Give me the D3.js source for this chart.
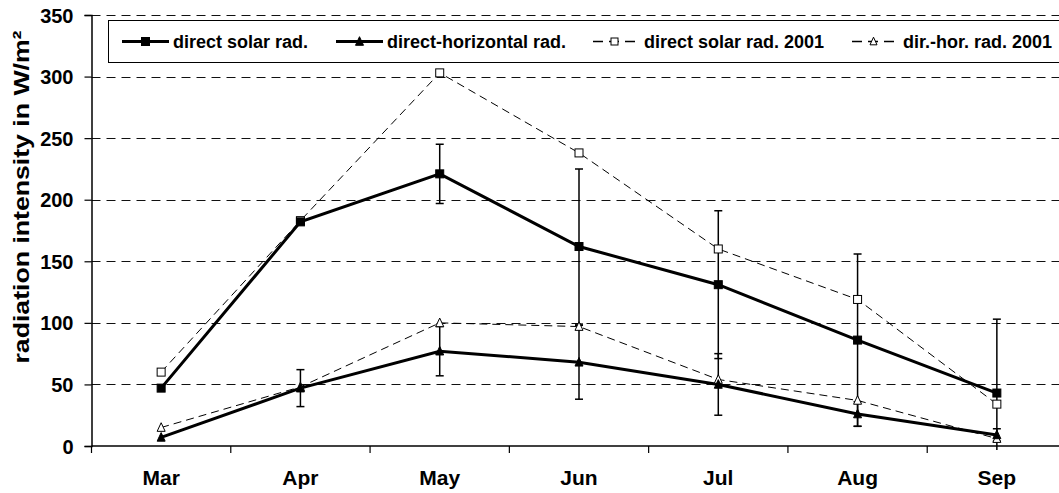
<!DOCTYPE html>
<html lang="en">
<head>
<meta charset="UTF-8">
<title>Radiation intensity</title>
<script src="https://d3js.org/d3.v7.min.js"></script>
<style>
    body { margin: 0; background: #fff; }
    svg text { font-family: "Liberation Sans", Arial, sans-serif; font-weight: bold; fill: #000; }
</style>
</head>
<body>
<svg id="chart" width="1059" height="493"></svg>
<script>
// categories
const months = ["Mar", "Apr", "May", "Jun", "Jul", "Aug", "Sep"];
const yTicks = [0, 50, 100, 150, 200, 250, 300, 350];

// series values (W/m²) and standard deviations
const directSolar    = [47, 182, 221, 162, 131, 86, 43];
const directSolarErr = [0, 0, 24, 63, 60, 70, 60];
const directHor      = [7, 47, 77, 68, 50, 26, 9];
const directHorErr   = [0, 15, 20, 30, 25, 10, 5];
const solar2001      = [60, 183, 303, 238, 160, 119, 34];
const horiz2001      = [15, 48, 100, 97, 54, 37, 6];

const series = [
    { name: "direct solar rad.",      values: directSolar, err: directSolarErr, marker: "square",   filled: true,  dashed: false },
    { name: "direct-horizontal rad.", values: directHor,   err: directHorErr,   marker: "triangle", filled: true,  dashed: false },
    { name: "direct solar rad. 2001", values: solar2001,   err: null,           marker: "square",   filled: false, dashed: true },
    { name: "dir.-hor. rad. 2001",    values: horiz2001,   err: null,           marker: "triangle", filled: false, dashed: true }
];

const svg = d3.select("#chart");
const plotLeft = 91.5, plotRight = 1066.5, plotTop = 15, plotBottom = 446;

const x = d3.scaleBand().domain(months).range([plotLeft, plotRight]);
const y = d3.scaleLinear().domain([0, 350]).range([plotBottom, plotTop]);
const cx = m => x(m) + x.bandwidth() / 2;

svg.append("defs").append("clipPath").attr("id", "plotclip")
    .append("rect").attr("x", plotLeft).attr("y", plotTop - 6)
    .attr("width", plotRight - plotLeft).attr("height", plotBottom - plotTop + 10);

// gridlines
svg.append("g").selectAll("line").data(yTicks.filter(d => d > 0)).join("line")
    .attr("x1", plotLeft).attr("x2", plotRight)
    .attr("y1", d => Math.round(y(d)) + 0.5).attr("y2", d => Math.round(y(d)) + 0.5)
    .attr("stroke", "#111").attr("stroke-width", 1).attr("stroke-dasharray", "9,6");

// y axis
const yAxis = svg.append("g").attr("transform", `translate(${plotLeft},0)`)
    .call(d3.axisLeft(y).tickValues(yTicks).tickSize(7).tickPadding(11));
yAxis.select(".domain").attr("stroke", "#000").attr("stroke-width", 1.5);
yAxis.selectAll(".tick line").attr("stroke", "#000").attr("stroke-width", 1.2);
yAxis.selectAll("text").style("font-size", "20px").attr("dy", "0.35em");

// x axis, ticks between categories
const xAxisG = svg.append("g");
xAxisG.append("line").attr("x1", plotLeft).attr("x2", plotRight).attr("y1", plotBottom).attr("y2", plotBottom)
    .attr("stroke", "#000").attr("stroke-width", 1.5);
xAxisG.selectAll(".xt").data(months).join("line").attr("class", "xt")
    .attr("x1", d => x(d)).attr("x2", d => x(d)).attr("y1", plotBottom).attr("y2", plotBottom + 7)
    .attr("stroke", "#000").attr("stroke-width", 1.2);
xAxisG.selectAll("text").data(months).join("text")
    .attr("x", d => cx(d)).attr("y", 485).attr("text-anchor", "middle")
    .style("font-size", "21px").text(d => d);

// y title
svg.append("text").attr("transform", "translate(29,197) rotate(-90)")
    .attr("text-anchor", "middle").style("font-size", "22px")
    .attr("textLength", 333).attr("lengthAdjust", "spacingAndGlyphs")
    .text("radiation intensity in W/m²");

function drawMarker(g, type, filled, px, py, s) {
    if (type === "square") {
        g.append("rect").attr("x", px - s / 2).attr("y", py - s / 2).attr("width", s).attr("height", s)
            .attr("fill", filled ? "#000" : "#fff").attr("stroke", "#000").attr("stroke-width", 1);
    } else {
        const h = s * 0.95;
        g.append("path")
            .attr("d", `M${px},${py - h / 2 - 1}L${px + s / 2},${py + h / 2}L${px - s / 2},${py + h / 2}Z`)
            .attr("fill", filled ? "#000" : "#fff").attr("stroke", "#000").attr("stroke-width", 1);
    }
}

const plot = svg.append("g").attr("clip-path", "url(#plotclip)");

// error bars
series.filter(s => s.err).forEach(s => {
    const g = plot.append("g");
    months.forEach((m, i) => {
        const e = s.err[i];
        if (!e) return;
        const px = cx(m), hi = y(s.values[i] + e), lo = y(s.values[i] - e);
        g.append("line").attr("x1", px).attr("x2", px).attr("y1", hi).attr("y2", lo)
            .attr("stroke", "#000").attr("stroke-width", 1.5);
        [hi, lo].forEach(v => g.append("line").attr("x1", px - 4).attr("x2", px + 4)
            .attr("y1", v).attr("y2", v).attr("stroke", "#000").attr("stroke-width", 1.5));
    });
});

// lines
const line = d3.line().x((d, i) => cx(months[i])).y(d => y(d));
series.slice().reverse().forEach(s => {
    plot.append("path").datum(s.values).attr("d", line).attr("fill", "none")
        .attr("stroke", "#000")
        .attr("stroke-width", s.dashed ? 1 : 3)
        .attr("stroke-dasharray", s.dashed ? "8,5" : null);
});

// markers
series.slice().reverse().forEach(s => {
    const g = plot.append("g");
    s.values.forEach((v, i) => drawMarker(g, s.marker, s.filled, cx(months[i]), y(v), 8));
});

// legend
const legend = svg.append("g");
legend.append("rect").attr("x", 108.5).attr("y", 20.5).attr("width", 960).attr("height", 42)
    .attr("fill", "#fff").attr("stroke", "#000").attr("stroke-width", 1);
const legendX = [122, 336, 593, 852];
const legendW = [47, 47, 43, 43];
series.forEach((s, i) => {
    const g = legend.append("g");
    const x0 = legendX[i], x1 = x0 + legendW[i], ly = 41.5;
    g.append("line").attr("x1", x0).attr("x2", x1).attr("y1", ly).attr("y2", ly)
        .attr("stroke", "#000").attr("stroke-width", s.dashed ? 1.5 : 3)
        .attr("stroke-dasharray", s.dashed ? "10,6" : null);
    drawMarker(g, s.marker, s.filled, (x0 + x1) / 2, ly, s.dashed ? 7 : 8);
    g.append("text").attr("x", x1 + (s.dashed ? 8 : 4)).attr("y", 48)
        .style("font-size", "18px").text(s.name);
});
</script>
</body>
</html>
